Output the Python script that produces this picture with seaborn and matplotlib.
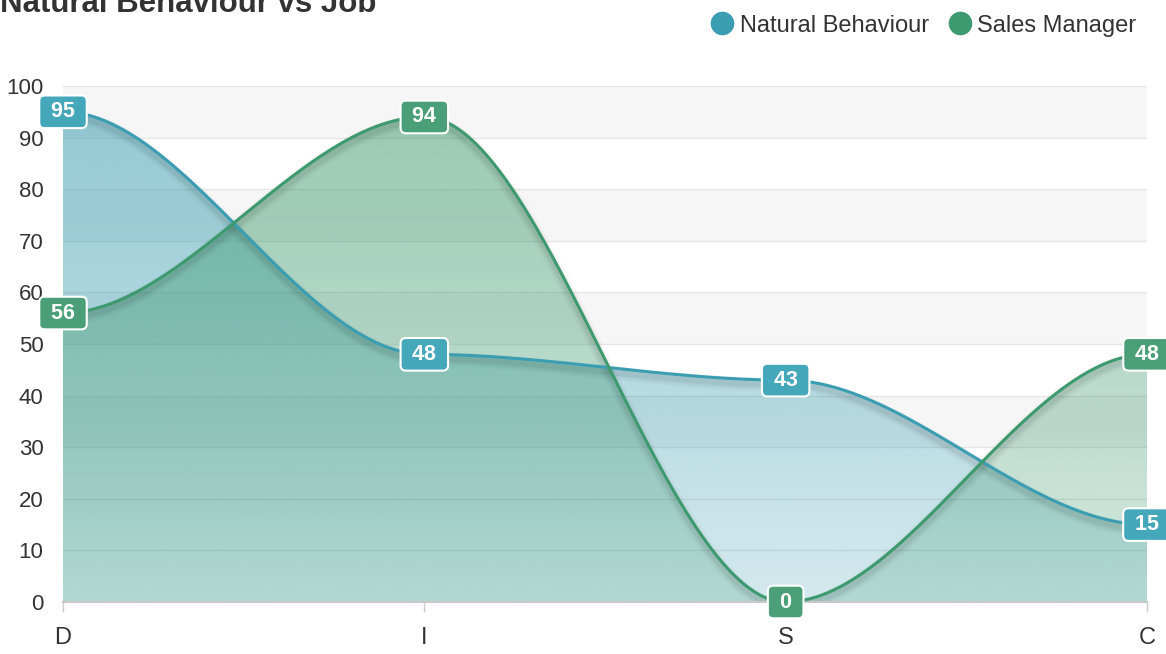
import numpy as np
import pandas as pd
import matplotlib.pyplot as plt
import seaborn as sns
from matplotlib.lines import Line2D
from matplotlib.colors import to_rgb

# data
traits = ['D', 'I', 'S', 'C']
natural = [95, 48, 43, 15]
sales = [56, 94, 0, 48]
y_ticks = list(range(0, 101, 10))

blue = '#3a9db1'
green = '#3d996e'
blue_box = '#45a7ba'
green_box = '#4a9f78'

sns.set_style('white')
plt.rcParams['font.family'] = ['Liberation Sans', 'DejaVu Sans']


def smooth(vals, n=120):
    # flat tangent at every point, like the web chart's "smooth" curve
    xs, ys = [], []
    for i in range(len(vals) - 1):
        t = np.linspace(0, 1, n, endpoint=(i == len(vals) - 2))
        xs.append(i + t)
        ys.append(vals[i] + (vals[i + 1] - vals[i]) * (3 * t**2 - 2 * t**3))
    return np.concatenate(xs), np.concatenate(ys)


def gradient_fill(ax, x, y, color, top_a, bot_a, z):
    # vertical gradient from the series max down to 0, clipped to the area
    poly = ax.fill_between(x, y, 0, color='none', lw=0)
    rgb = to_rgb(color)
    img = np.zeros((200, 2, 4))
    img[..., :3] = rgb
    img[..., 3] = np.linspace(top_a, bot_a, 200)[:, None]
    im = ax.imshow(img, extent=[x.min(), x.max(), 0, y.max()], aspect='auto',
                   origin='upper', zorder=z, interpolation='bilinear')
    im.set_clip_path(poly.get_paths()[0], transform=ax.transData)


xn, yn = smooth(natural)
xs, ys = smooth(sales)
curves = pd.concat([
    pd.DataFrame({'x': xn, 'y': yn, 'series': 'Natural Behaviour'}),
    pd.DataFrame({'x': xs, 'y': ys, 'series': 'Sales Manager'}),
])

fig = plt.figure(figsize=(11.66, 6.54), dpi=100)
ax = fig.add_axes([63 / 1166, 52 / 654, 1084 / 1166, 516 / 654])

# alternating bands + grid
for lo in [30, 50, 70, 90]:
    ax.axhspan(lo, lo + 10, color='#f6f6f6', zorder=0, lw=0)
for v in y_ticks[1:]:
    ax.axhline(v, color='#e6e6e6', lw=1, zorder=0.5)

# areas
gradient_fill(ax, xn, yn, blue, 0.55, 0.22, 1)
gradient_fill(ax, xs, ys, green, 0.52, 0.22, 1.1)

# soft shadow under the lines
for x_, y_ in [(xn, yn), (xs, ys)]:
    for lw, a in [(10, 0.025), (7, 0.035), (4, 0.05)]:
        ax.plot(x_, y_ - 0.9, color='black', lw=lw, alpha=a, zorder=1.5,
                solid_capstyle='round')

sns.lineplot(data=curves, x='x', y='y', hue='series',
             palette={'Natural Behaviour': blue, 'Sales Manager': green},
             lw=2.2, ax=ax, legend=False, sort=False, zorder=3)

# data labels
for vals, col in [(natural, blue_box), (sales, green_box)]:
    for i, v in enumerate(vals):
        ax.text(i, v, ' %d ' % v, ha='center', va='center', color='white',
                fontsize=15.5, fontweight='bold', zorder=5, clip_on=False,
                bbox=dict(boxstyle='round,pad=0.27,rounding_size=0.25',
                          fc=col, ec='white', lw=1.5))

ax.set_xlim(0, 3)
ax.set_ylim(0, 100)
ax.set_xticks(range(len(traits)))
ax.set_xticklabels(traits)
ax.set_yticks(y_ticks)
ax.set_xlabel('')
ax.set_ylabel('')
ax.tick_params(axis='x', length=7, width=1, color='#cccccc', pad=11,
               labelsize=17, labelcolor='#333333', direction='out', bottom=True)
ax.tick_params(axis='y', length=0, pad=14, labelsize=16, labelcolor='#333333')
for s in ['top', 'right', 'left']:
    ax.spines[s].set_visible(False)
ax.spines['bottom'].set_color('#c8c8c8')
ax.spines['bottom'].set_linewidth(1.5)

fig.text(0.0, 1 - 12 / 654, 'Natural Behaviour vs Job', ha='left',
         va='baseline', fontsize=22.5, fontweight='bold', color='#333333')

handles = [Line2D([], [], marker='o', ls='', ms=16, color=blue),
           Line2D([], [], marker='o', ls='', ms=16, color=green)]
leg = fig.legend(handles, ['Natural Behaviour', 'Sales Manager'],
                 loc='upper right', bbox_to_anchor=(0.993, 1.01), ncol=2,
                 frameon=False, fontsize=17, handletextpad=0.25,
                 columnspacing=0.8, handlelength=1.0)
for t in leg.get_texts():
    t.set_color('#333333')

fig.savefig('out.png', dpi=100)
